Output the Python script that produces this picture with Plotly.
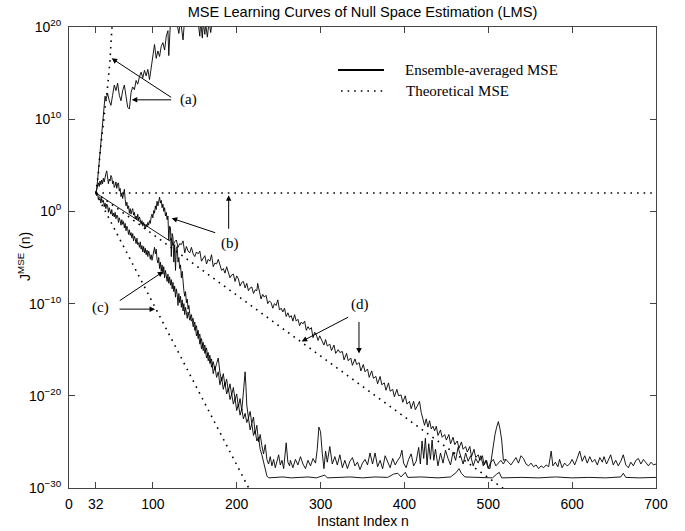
import plotly.graph_objects as go

# ---------------- data (sample index n, log10 of MSE) ----------------
TICK_X = [0, 32, 100, 200, 300, 400, 500, 600, 700]
TICK_Y_EXP = [-30, -20, -10, 0, 10, 20]

# theoretical MSE curves (dotted)
THEO_A = [(32, 2.0), (35, 4.1), (37, 6.3), (39, 8.1), (41, 9.9), (43, 11.2),
          (45.7, 13.2), (48.9, 16.4), (50.9, 19.5), (52.5, 21.5)]
THEO_B = [(32, 2.0), (700, 2.0)]
THEO_C = [(32, 2.0), (216, -30.3)]
THEO_D = [(32, 2.0), (520, -30.2)]

# ensemble-averaged MSE curves (solid)
ENS_A = [(32, 2.0), (33, 2.4), (34, 3.3), (35, 4.4), (36, 5.1), (37, 6.2), (38, 7.3),
         (39, 8.4), (40, 9.6), (41, 10.9), (42, 11.8), (43, 12.5), (44, 12.1), (46, 12.8),
         (48, 12.0), (50, 11.5), (52, 12.6), (54, 13.7), (56, 13.1), (58, 13.9), (60, 12.6),
         (62, 12.0), (64, 13.1), (66, 13.7), (68, 12.5), (70, 11.3), (72, 11.1), (74, 12.9),
         (76, 13.5), (78, 13.2), (80, 14.2), (82, 13.8), (84, 14.6), (86, 15.1), (88, 14.5),
         (90, 15.3), (92, 14.7), (94, 15.4), (96, 14.3), (98, 15.6), (100, 17.0), (102, 18.1),
         (104, 16.6), (106, 17.4), (108, 16.8), (110, 17.9), (112, 18.3), (114, 17.5),
         (116, 19.0), (118, 19.6), (119, 16.9), (121, 20.6), (124, 21.0), (128, 20.7),
         (131, 19.3), (133, 20.8), (136, 18.6), (138, 21.0), (142, 21.5), (146, 21.0),
         (150, 21.4), (154, 20.5), (156, 19.0), (157, 20.6), (159, 18.8), (160, 20.5),
         (162, 19.2), (163, 20.4), (165, 18.9), (167, 20.6), (169, 19.4), (171, 20.8),
         (175, 21.5), (180, 22.0), (200, 22.5), (250, 23.0), (350, 23.5), (500, 24.0),
         (700, 24.5)]

ENS_B = [(32, 2.0), (33, 2.5), (34, 3.0), (35, 3.1), (36, 2.7), (37, 3.3), (38, 2.9),
         (39, 3.4), (40, 3.0), (41, 3.6), (42, 3.2), (43, 3.9), (44, 4.1), (45, 4.4),
         (46, 3.6), (47, 3.0), (48, 3.5), (49, 3.3), (50, 3.9), (51, 3.7), (52, 3.0),
         (53, 3.3), (54, 2.6), (55, 2.8), (56, 3.2), (57, 2.5), (58, 3.0), (59, 3.1),
         (60, 2.2), (61, 2.5), (62, 1.6), (63, 2.0), (64, 1.4), (65, 2.2), (66, 2.4),
         (67, 1.3), (68, 0.6), (69, 1.0), (70, 0.3), (71, 0.6), (72, -0.2), (73, 0.3),
         (74, -0.3), (75, 0.1), (76, 0.3), (77, -0.4), (78, -0.1), (79, -0.8), (80, -0.5),
         (81, -0.9), (82, -0.3), (83, -1.0), (84, -0.6), (85, -0.9), (86, -1.4), (87, -1.0),
         (88, -1.6), (89, -1.2), (90, -1.5), (91, -1.9), (92, -1.4), (93, -1.7), (94, -1.2),
         (95, -1.5), (96, -1.0), (97, -1.3), (98, -0.6), (99, -0.3), (100, -0.7), (101, 0.1),
         (102, -0.2), (103, 0.6), (104, 0.2), (105, 1.1), (106, 0.6), (107, 1.3), (108, 1.55),
         (109, 0.9), (110, 1.2), (111, 0.4), (112, 0.8), (113, 0.0), (114, 0.4), (115, -0.5),
         (116, -0.1), (117, -0.9), (118, -0.5), (119, -3.1), (120, -1.6), (121, -1.8),
         (122, -4.9), (123, -2.4), (124, -2.8), (125, -5.5), (126, -3.6), (127, -6.4),
         (128, -4.0), (129, -3.8), (130, -5.5), (131, -5.0), (132, -6.2), (133, -5.8),
         (134, -7.2), (135, -6.5), (136, -8.0), (137, -8.6), (138, -9.2), (139, -8.7),
         (140, -9.9), (141, -9.5), (142, -10.6), (143, -10.2), (144, -11.1), (146, -11.9),
         (148, -11.6), (150, -12.9), (152, -12.4), (154, -13.8), (156, -13.3), (158, -14.9),
         (160, -14.2), (162, -15.4), (164, -14.8), (166, -16.2), (168, -15.6), (170, -16.9),
         (172, -16.3), (174, -17.2), (176, -16.5), (178, -15.9), (180, -17.5), (182, -18.4),
         (184, -17.6), (186, -18.9), (188, -18.2), (190, -19.5), (192, -18.7), (194, -19.9),
         (196, -19.1), (198, -20.4), (200, -19.8), (202, -21.2), (204, -20.3), (206, -21.6),
         (208, -19.6), (210, -17.4), (211, -19.0), (212, -21.0), (214, -22.4), (216, -21.7),
         (218, -23.0), (220, -22.3), (222, -24.1), (224, -23.2), (226, -25.0), (228, -24.2),
         (230, -25.4), (232, -26.3), (234, -25.3), (236, -26.9),
         (238, -27.4), (240, -26.6), (242, -27.6),
         (244, -26.9), (246, -27.8), (248, -27.1), (250, -26.4), (252, -27.5), (254, -27.0),
         (256, -27.9), (258, -26.2), (259, -25.1), (261, -27.2), (263, -27.6), (264, -27.0),
         (267, -27.8), (270, -26.9), (273, -27.5), (276, -26.6), (279, -27.4), (282, -27.9),
         (285, -27.0), (288, -27.6), (291, -26.8), (294, -27.3), (296, -25.8), (298, -23.4),
         (300, -23.9), (302, -26.2), (304, -27.9), (306, -26.0), (308, -27.2), (311, -25.5),
         (314, -27.4), (317, -26.6), (320, -27.5), (323, -26.4), (326, -27.8), (329, -27.0),
         (332, -27.9), (335, -27.1), (338, -26.7), (341, -27.6), (344, -27.2), (347, -28.0),
         (350, -27.3), (353, -26.9), (356, -27.5), (359, -26.2), (362, -27.4), (365, -26.2),
         (368, -27.7), (371, -27.0), (374, -27.9), (377, -26.5), (380, -27.2), (383, -27.8),
         (386, -26.8), (389, -27.5), (392, -27.0), (395, -26.6), (397, -25.9), (399, -27.3),
         (402, -27.8), (405, -26.9), (408, -26.3), (411, -27.6), (414, -27.1), (417, -25.6),
         (419, -27.4), (421, -24.9), (423, -26.8), (425, -24.6), (427, -27.5), (429, -25.2),
         (431, -26.9), (433, -24.8), (435, -27.0), (437, -25.8), (440, -27.6), (443, -26.2),
         (446, -27.3), (449, -25.9), (452, -26.8), (455, -27.5), (458, -26.1), (461, -27.0),
         (464, -25.6), (467, -26.6), (470, -27.4), (473, -26.2), (476, -27.1), (479, -26.5),
         (482, -27.6), (485, -26.8), (488, -27.3), (491, -26.5), (494, -27.6), (497, -27.0),
         (500, -27.9), (503, -27.2), (506, -26.9), (509, -27.6), (512, -27.3), (515, -27.0),
         (518, -27.4), (521, -26.9), (524, -27.2), (527, -27.5), (530, -27.1), (533, -26.7),
         (536, -27.3), (539, -26.5), (542, -26.8), (545, -27.4), (548, -27.6), (551, -27.3),
         (554, -27.7), (557, -27.5), (560, -27.9), (563, -27.6), (566, -27.8), (569, -27.5),
         (572, -27.7), (574, -26.8), (575, -26.0), (577, -27.6), (580, -27.2), (583, -27.7),
         (585, -26.9), (588, -27.8), (591, -27.3), (594, -27.6), (597, -27.4), (600, -26.9),
         (603, -27.5), (606, -26.8), (609, -26.0), (612, -27.1), (615, -26.5), (618, -27.3),
         (621, -26.6), (624, -27.2), (627, -26.9), (630, -27.5), (633, -26.7), (636, -27.2),
         (638, -26.6), (641, -27.4), (644, -26.9), (646, -26.4), (649, -27.5), (652, -27.0),
         (655, -27.6), (658, -27.1), (661, -26.4), (664, -27.5), (667, -27.8), (670, -27.2),
         (673, -27.6), (676, -27.0), (679, -26.8), (682, -27.4), (685, -26.9), (688, -27.3),
         (691, -27.6), (694, -27.2), (697, -27.5), (700, -27.4)]

ENS_C = [(32, 2.0), (33, 1.7), (34, 2.0), (35, 1.3), (36, 1.6), (37, 1.5), (38, 0.9),
         (39, 1.4), (40, 1.0), (41, 1.2), (42, 0.5), (43, 0.9), (44, 0.3), (45, 0.8),
         (46, 0.6), (47, -0.1), (48, 0.4), (49, 0.1), (50, -0.3), (51, 0.2), (52, -0.5),
         (53, -0.2), (54, -0.6), (55, -0.1), (56, -0.8), (57, -0.4), (58, -0.5), (59, -1.2),
         (60, -0.7), (61, -1.0), (62, -1.5), (63, -0.9), (64, -1.4), (65, -1.1), (66, -1.8),
         (67, -1.3), (68, -2.1), (69, -1.6), (70, -1.9), (71, -2.5), (72, -2.0), (73, -2.6),
         (74, -2.3), (75, -2.9), (76, -2.4), (77, -3.2), (78, -2.7), (79, -3.0), (80, -3.5),
         (81, -2.9), (82, -3.6), (83, -3.4), (84, -3.9), (85, -3.3), (86, -4.1), (87, -3.7),
         (88, -4.4), (89, -3.8), (90, -4.5), (91, -4.0), (92, -4.7), (93, -4.2), (94, -4.9),
         (95, -4.3), (96, -4.6), (97, -5.2), (98, -4.7), (99, -5.3), (100, -4.8), (101, -4.3),
         (102, -3.9), (103, -4.6), (104, -4.1), (105, -5.2), (106, -5.6), (107, -5.0),
         (108, -6.2), (109, -5.5), (110, -6.5), (111, -5.8), (112, -6.8), (113, -6.0),
         (114, -7.2), (115, -6.4), (116, -6.9), (117, -7.6), (118, -6.8), (119, -7.8),
         (120, -7.1), (121, -8.0), (122, -7.4), (123, -8.4), (124, -7.7), (125, -8.7),
         (126, -8.1), (127, -9.3), (128, -8.4), (129, -9.0), (130, -10.2), (131, -8.9),
         (132, -9.9), (133, -9.2), (134, -10.4), (135, -9.6), (136, -10.8), (137, -10.0),
         (138, -11.2), (139, -10.4), (140, -11.0), (141, -11.6), (142, -10.9), (144, -11.8),
         (146, -11.2), (148, -12.5), (150, -12.0), (152, -13.5), (154, -12.9), (156, -14.4),
         (158, -13.8), (160, -15.1), (162, -14.5), (164, -15.9), (166, -15.3), (168, -16.5),
         (170, -16.0), (172, -17.6), (174, -16.8), (176, -18.0), (178, -17.4), (180, -18.8),
         (182, -18.0), (184, -19.3), (186, -18.6), (188, -19.8), (190, -19.2), (192, -20.4),
         (194, -19.8), (196, -20.9), (198, -20.3), (200, -21.6), (202, -20.9), (204, -22.1),
         (206, -21.4), (208, -22.5), (210, -21.9), (212, -22.9), (214, -22.4), (216, -23.7),
         (218, -23.0), (220, -24.3), (222, -23.8), (224, -24.9), (226, -24.5), (228, -25.8),
         (230, -26.4), (232, -27.2), (234, -27.9), (236, -28.7), (238, -28.9), (245, -28.85),
         (255, -28.8), (265, -28.9), (275, -28.85), (285, -28.8), (295, -28.9), (305, -28.6),
         (308, -28.9), (320, -28.85), (335, -28.8), (350, -28.9), (365, -28.8), (380, -28.85),
         (387, -28.5), (392, -28.4), (396, -28.8), (401, -28.3), (404, -28.85), (420, -28.8),
         (440, -28.9), (455, -28.8), (462, -28.3), (465, -27.9), (468, -28.4), (472, -28.8),
         (490, -28.85), (505, -28.9), (510, -28.5), (513, -28.3), (516, -28.9), (540, -28.85),
         (560, -28.9), (580, -28.8), (600, -28.9), (620, -28.85), (640, -28.9), (658, -28.8),
         (661, -28.4), (664, -28.85), (680, -28.9), (700, -28.85)]

ENS_D = [(32, 2.0), (120, -3.2), (122, -2.9), (124, -3.7), (126, -3.3), (128, -3.1),
         (130, -3.9), (132, -3.5), (134, -3.6), (136, -3.2), (138, -4.5), (140, -3.8),
         (142, -4.3), (144, -4.5), (146, -3.9), (148, -4.6), (150, -4.9), (152, -4.4),
         (154, -4.6), (156, -4.3), (158, -5.4), (160, -5.1), (162, -4.8), (164, -5.7),
         (166, -5.2), (168, -5.4), (170, -4.7), (172, -6.0), (174, -5.6), (176, -5.7),
         (178, -5.2), (180, -5.8), (182, -6.4), (184, -6.2), (186, -6.7), (188, -6.0),
         (190, -6.6), (192, -7.2), (194, -6.9), (196, -6.8), (198, -7.6), (200, -7.0),
         (202, -7.3), (204, -8.1), (206, -7.7), (208, -7.6), (210, -8.3), (212, -7.8),
         (214, -8.6), (216, -8.3), (218, -8.2), (220, -8.9), (222, -8.5), (224, -8.6),
         (225, -7.8), (227, -8.9), (229, -9.5), (231, -9.0), (233, -9.3), (235, -9.1),
         (237, -10.0), (239, -9.7), (241, -9.9), (243, -10.5), (245, -10.0), (247, -10.2),
         (249, -9.6), (251, -10.7), (253, -10.5), (255, -10.9), (257, -10.5), (259, -11.4),
         (261, -11.0), (263, -11.5), (265, -11.3), (267, -11.9), (269, -11.2), (271, -11.9),
         (273, -11.7), (275, -12.4), (277, -12.0), (279, -12.2), (281, -11.9), (283, -12.9),
         (285, -12.5), (287, -12.8), (289, -12.6), (291, -13.7), (293, -13.1), (295, -13.4),
         (297, -14.0), (299, -13.5), (301, -13.9), (304, -14.5), (306, -13.9), (308, -14.6),
         (311, -14.4), (313, -15.1), (316, -14.5), (318, -15.4), (321, -15.0), (323, -15.3),
         (326, -15.2), (328, -16.1), (331, -15.4), (333, -16.2), (336, -15.9), (338, -16.7),
         (341, -16.0), (343, -16.6), (346, -16.4), (348, -17.3), (351, -16.6), (353, -17.4),
         (356, -17.1), (358, -18.0), (361, -17.3), (363, -18.1), (366, -17.9), (368, -18.7),
         (371, -17.9), (373, -18.8), (376, -18.6), (378, -19.4), (381, -18.6), (383, -19.5),
         (386, -19.3), (388, -20.1), (391, -19.3), (393, -20.0), (396, -19.9), (398, -20.7),
         (401, -20.0), (403, -20.9), (406, -20.6), (408, -21.4), (411, -20.6), (413, -21.5),
         (416, -21.0), (418, -20.6), (420, -21.8), (422, -22.6), (424, -23.2), (426, -22.5),
         (428, -23.4), (430, -22.7), (432, -23.6), (434, -23.3), (436, -23.8), (438, -23.3),
         (440, -24.3), (443, -23.7), (445, -24.5), (448, -24.2), (450, -24.8), (453, -24.2),
         (455, -25.2), (458, -24.5), (460, -25.3), (463, -24.9), (465, -25.7), (468, -25.0),
         (470, -25.8), (473, -25.5), (475, -26.1), (478, -25.5), (480, -26.6), (483, -25.8),
         (485, -26.7), (488, -26.4), (490, -27.0), (493, -26.5), (495, -27.5), (498, -27.0),
         (500, -27.8), (502, -27.9), (504, -26.6), (506, -25.4), (508, -24.2), (510, -23.4),
         (512, -22.8), (514, -23.6), (516, -24.8), (518, -27.0), (521, -26.9)]

LEGEND_LABELS = ["Ensemble-averaged MSE", "Theoretical MSE"]
CURVE_LABELS = ["(a)", "(b)", "(c)", "(d)"]

# ---------------- figure ----------------
fig = go.Figure()

def add_curve(points, dotted):
    n = [p[0] for p in points]
    v = [10.0 ** p[1] for p in points]
    if dotted:
        line = dict(color="black", width=1.6, dash="1.6px,5px")
    else:
        line = dict(color="black", width=0.9)
    fig.add_trace(go.Scatter(x=n, y=v, mode="lines", line=line,
                             showlegend=False, hoverinfo="skip"))

for pts in (THEO_A, THEO_B, THEO_C, THEO_D):
    add_curve(pts, True)
for pts in (ENS_A, ENS_B, ENS_C, ENS_D):
    add_curve(pts, False)

axis_font = dict(family="Liberation Sans, Arial, sans-serif", size=14, color="black")
title_font = dict(family="Liberation Sans, Arial, sans-serif", size=14.6, color="black")
serif = dict(family="Liberation Serif, Times New Roman, serif", size=15, color="black")

L, R, T, B = 69, 656, 27, 488
def px(xp):
    return (xp - L) / (R - L)
def py(yp):
    return (B - yp) / (B - T)

fig.update_layout(
    width=685, height=531,
    margin=dict(l=L, r=685 - R, t=T, b=531 - B),
    paper_bgcolor="white", plot_bgcolor="white",
    title=dict(text="MSE Learning Curves of Null Space Estimation (LMS)",
               x=0.5, xref="paper", y=1 - 12 / 531, yref="container",
               xanchor="center", yanchor="middle", font=title_font),
    xaxis=dict(range=[0, 700], tickmode="array", tickvals=TICK_X,
               ticktext=[str(t) for t in TICK_X],
               ticks="inside", ticklen=6, tickcolor="#444", showline=True,
               linecolor="#444", linewidth=1, mirror="ticks", showgrid=False,
               zeroline=False, tickfont=axis_font, automargin=False,
               ticklabelstandoff=3),
    yaxis=dict(type="log", range=[-30, 20], tickmode="array",
               tickvals=[10.0 ** e for e in TICK_Y_EXP],
               ticktext=["10<sup>%s</sup>" % (str(e).replace("-", "\u2212")) for e in TICK_Y_EXP],
               ticks="inside", ticklen=6, tickcolor="#444", showline=True,
               linecolor="#444", linewidth=1, mirror="ticks", showgrid=False,
               zeroline=False, tickfont=axis_font, ticklabelstandoff=4,
               automargin=False),
    showlegend=False,
)

# axis titles
fig.add_annotation(text="Instant Index n", xref="paper", yref="paper",
                   x=0.5, y=py(521), showarrow=False, font=axis_font,
                   xanchor="center", yanchor="middle")
fig.add_annotation(text="J<sup>MSE</sup> (n)", xref="paper", yref="paper",
                   x=px(24), y=py(257), textangle=-90,
                   showarrow=False, font=axis_font, xanchor="center", yanchor="middle")

# legend (drawn in axes-fraction coordinates)
fig.add_shape(type="line", xref="paper", yref="paper",
              x0=px(338), x1=px(384), y0=py(70), y1=py(70),
              line=dict(color="black", width=2))
fig.add_shape(type="line", xref="paper", yref="paper",
              x0=px(341), x1=px(384), y0=py(91), y1=py(91),
              line=dict(color="black", width=1.6, dash="1.6px,5px"))
fig.add_annotation(text=LEGEND_LABELS[0], xref="paper", yref="paper",
                   x=px(403), y=py(70), showarrow=False,
                   xanchor="left", yanchor="middle", font=serif)
fig.add_annotation(text=LEGEND_LABELS[1], xref="paper", yref="paper",
                   x=px(404), y=py(91.5), showarrow=False,
                   xanchor="left", yanchor="middle", font=serif)

# curve labels
label_pos = [(142.2, 12.1), (192.0, -3.5), (37.0, -10.4), (347.0, -10.1)]
for txt, (lx, ly) in zip(CURVE_LABELS, label_pos):
    fig.add_annotation(text=txt, x=lx, y=ly, xref="x", yref="y", showarrow=False,
                       font=serif, xanchor="center", yanchor="middle")

# arrows: head position (data), tail offset (pixels)
arrows = [(50.9, 16.6, 61, 40), (74.8, 12.1, 41, 0),
          (122.5, -0.74, 45, 15), (190.4, 1.75, 0, 35),
          (112.4, -6.53, -45, 30), (102.6, -10.6, -37, 0),
          (277.5, -14.1, 48, -25), (345.8, -15.4, 0, -33)]
for hx, hy, ax, ay in arrows:
    fig.add_annotation(text="", x=hx, y=hy, xref="x", yref="y", showarrow=True,
                       ax=ax, ay=ay, arrowhead=2, arrowsize=1.1, arrowwidth=1,
                       arrowcolor="black", standoff=0, startstandoff=0)

fig.write_html("out.html")
